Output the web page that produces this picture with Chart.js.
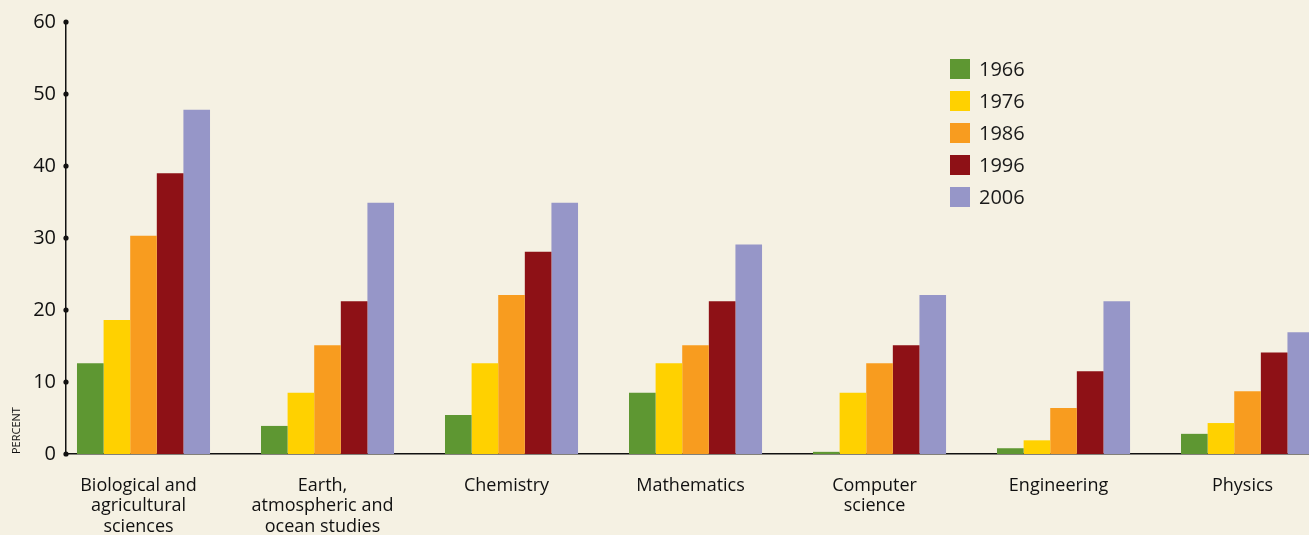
<!DOCTYPE html>
<html>
<head>
<meta charset="utf-8">
<script src="https://cdn.jsdelivr.net/npm/chart.js@4.4.1/dist/chart.umd.min.js"></script>
<style>
  html, body { margin: 0; padding: 0; background: #f5f1e3; overflow: hidden; }
  #wrap { position: relative; width: 1309px; height: 535px; }
  #legend { position: absolute; left: 950px; top: 59px; font-family: "Open Sans", "Noto Sans", sans-serif; font-size: 20px; color: #1a1a1a; }
  #legend div { height: 32px; display: flex; align-items: flex-start; }
  #legend span.box { display: inline-block; width: 20px; height: 20px; margin-right: 9px; }
  #legend span.txt { line-height: 20px; }
</style>
</head>
<body>
<div id="wrap">
  <canvas id="chart" width="1309" height="535"></canvas>
  <div id="legend"></div>
</div>
<script>
var categories = [
    ['Biological and', 'agricultural', 'sciences'],
    ['Earth,', 'atmospheric and', 'ocean studies'],
    ['Chemistry'],
    ['Mathematics'],
    ['Computer', 'science'],
    ['Engineering'],
    ['Physics']
];
var years = ['1966', '1976', '1986', '1996', '2006'];
var colors = ['#5e9732', '#ffd100', '#f89c1f', '#8e1116', '#9696c8'];

var values1966 = [12.6, 3.9, 5.4, 8.5, 0.3, 0.8, 2.8];
var values1976 = [18.6, 8.5, 12.6, 12.6, 8.5, 1.9, 4.3];
var values1986 = [30.3, 15.1, 22.1, 15.1, 12.6, 6.4, 8.7];
var values1996 = [39.0, 21.2, 28.1, 21.2, 15.1, 11.5, 14.1];
var values2006 = [47.8, 34.9, 34.9, 29.1, 22.1, 21.2, 16.9];

var allValues = [values1966, values1976, values1986, values1996, values2006];

var font = '"Open Sans", "Noto Sans", sans-serif';

var datasets = years.map(function (year, k) {
    return {
        label: year,
        data: allValues[k].map(function (v, i) { return { x: i, y: v }; }),
        backgroundColor: colors[k],
        borderWidth: 0,
        barPercentage: 1,
        categoryPercentage: 0.723
    };
});

// dots on the y axis at every tick
var tickDots = {
    id: 'tickDots',
    afterDraw: function (chart) {
        var ctx = chart.ctx, y = chart.scales.y, left = chart.chartArea.left;
        ctx.save();
        ctx.fillStyle = '#111';
        y.ticks.forEach(function (t) {
            ctx.beginPath();
            ctx.arc(left, y.getPixelForValue(t.value), 2.6, 0, Math.PI * 2);
            ctx.fill();
        });
        ctx.restore();
    }
};

var ctx = document.getElementById('chart').getContext('2d');
var myChart = new Chart(ctx, {
    type: 'bar',
    data: { datasets: datasets },
    plugins: [tickDots],
    options: {
        responsive: false,
        animation: false,
        layout: { padding: { top: 22, right: 0, bottom: 0, left: 0 } },
        plugins: { legend: { display: false }, tooltip: { enabled: false } },
        scales: {
            x: {
                type: 'linear',
                offset: false,
                min: -0.4212,
                max: 6.334,
                grid: { display: false, drawTicks: false },
                border: { color: '#111', width: 1.5 },
                afterFit: function (s) { s.height = 81; },
                ticks: {
                    stepSize: 1,
                    includeBounds: false,
                    autoSkip: false,
                    maxRotation: 0,
                    padding: 22,
                    labelOffset: -5,
                    color: '#111',
                    font: { family: font, size: 18, lineHeight: 1.12 },
                    callback: function (v) {
                        return Number.isInteger(v) && categories[v] ? categories[v] : '';
                    }
                }
            },
            y: {
                min: 0,
                max: 60,
                grid: { display: false, drawTicks: false },
                border: { color: '#111', width: 1.5 },
                afterFit: function (s) { s.width = 66; },
                ticks: {
                    stepSize: 10,
                    padding: 10,
                    color: '#111',
                    font: { family: font, size: 20 }
                },
                title: {
                    display: true,
                    text: 'PERCENT',
                    align: 'start',
                    color: '#111',
                    padding: { top: 10, bottom: 0 },
                    font: { family: font, size: 11 }
                }
            }
        }
    }
});

// legend built from the same arrays
var legend = document.getElementById('legend');
years.forEach(function (year, k) {
    var row = document.createElement('div');
    row.innerHTML = '<span class="box" style="background:' + colors[k] + '"></span><span class="txt">' + year + '</span>';
    legend.appendChild(row);
});
</script>
</body>
</html>
